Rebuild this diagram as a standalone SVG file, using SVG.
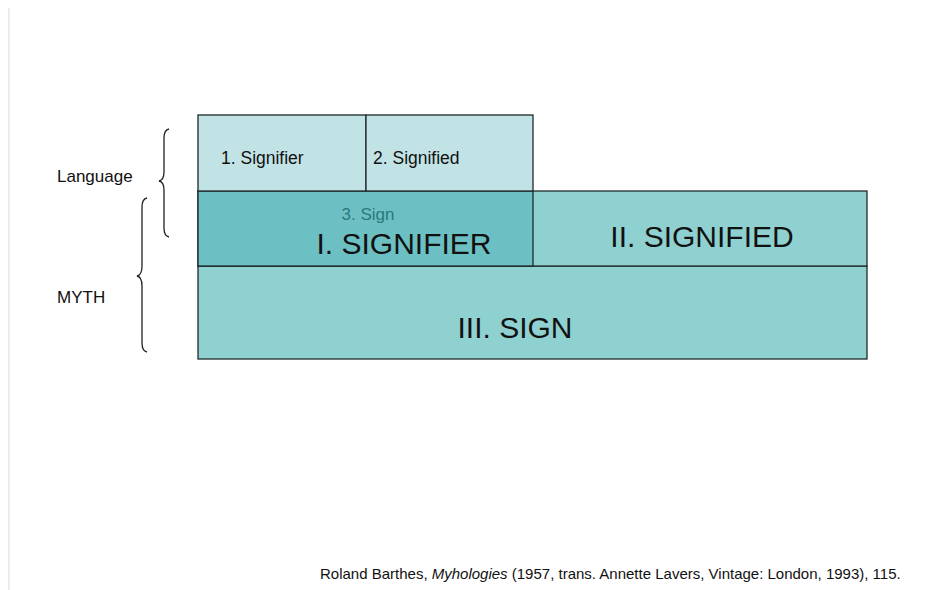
<svg xmlns="http://www.w3.org/2000/svg" width="936" height="590" viewBox="0 0 936 590">
<style>
text{font-family:"Liberation Sans",Arial,sans-serif;fill:#111}
.box{stroke:#1f2a2a;stroke-width:1.3}
.brace{fill:none;stroke:#222;stroke-width:1.3}
.small{font-size:17.5px}
.big{font-size:30px}
</style>
<rect width="936" height="590" fill="#fff"/>
<line x1="9" y1="8" x2="9" y2="590" stroke="#e6e6e6" stroke-width="1.5"/>
<g id="braces">
<path class="brace" d="M169,129 Q164,130 164,138 L164,172 Q164,180 159,181 Q164,182 164,190 L164,228 Q164,236 169,237"/>
<path class="brace" d="M147,198 Q142,199 142,207 L142,266 Q142,275 137,276 Q142,277 142,286 L142,343 Q142,351 147,352"/>
</g>
<g id="node-sign3">
<rect class="box" x="198" y="266" width="669" height="93" fill="#8fd1d0"/>
<text x="515" y="338" class="big" text-anchor="middle">III. SIGN</text>
</g>
<g id="node-signified2">
<rect class="box" x="198" y="191" width="669" height="75" fill="#8fd1d0"/>
<text x="702" y="247" class="big" text-anchor="middle">II. SIGNIFIED</text>
</g>
<g id="node-signifier1">
<rect class="box" x="198" y="191" width="335" height="75" fill="#6cc0c3"/>
<text x="368" y="220" class="small" text-anchor="middle" style="fill:#2a7a7c;font-size:17px">3. Sign</text>
<text x="404" y="254" class="big" text-anchor="middle">I. SIGNIFIER</text>
</g>
<g id="node-signifier">
<rect class="box" x="198" y="115" width="168" height="76" fill="#c1e3e5"/>
<text x="221" y="164" class="small">1. Signifier</text>
</g>
<g id="node-signified">
<rect class="box" x="366" y="115" width="167" height="76" fill="#c1e3e5"/>
<text x="373" y="164" class="small">2. Signified</text>
</g>
<g id="labels">
<text x="57" y="182" style="font-size:17px">Language</text>
<text x="57" y="303" style="font-size:17px">MYTH</text>
<text x="320" y="579" style="font-size:15px">Roland Barthes, <tspan font-style="italic">Myhologies</tspan> (1957, trans. Annette Lavers, Vintage: London, 1993), 115.</text>
</g>
</svg>
